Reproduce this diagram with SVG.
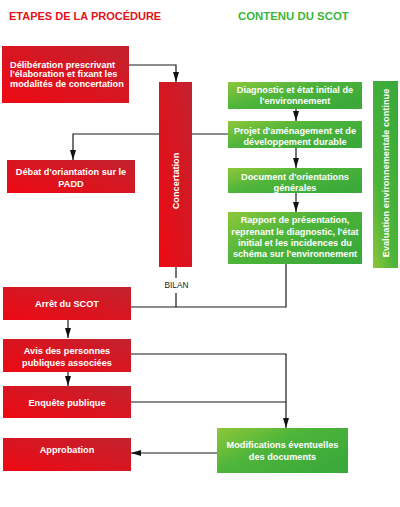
<svg xmlns="http://www.w3.org/2000/svg" width="400" height="507" viewBox="0 0 400 507">
<defs>
<linearGradient id="red" x1="0" y1="1" x2="1" y2="0">
<stop offset="0" stop-color="#ee0912"/>
<stop offset="1" stop-color="#c2222f"/>
</linearGradient>
<linearGradient id="green" x1="0" y1="0" x2="1" y2="0.7">
<stop offset="0" stop-color="#8fc73a"/>
<stop offset="0.45" stop-color="#4fb53a"/>
<stop offset="1" stop-color="#3aa93a"/>
</linearGradient>
<linearGradient id="greenV" x1="0" y1="1" x2="0.6" y2="0">
<stop offset="0" stop-color="#8cc63a"/>
<stop offset="0.4" stop-color="#4cb43a"/>
<stop offset="1" stop-color="#3aab3a"/>
</linearGradient>
<marker id="arr" viewBox="0 0 10 6" refX="10" refY="3" markerWidth="10" markerHeight="6" markerUnits="userSpaceOnUse" orient="auto">
<path d="M0,0 L10,3 L0,6 Z" fill="#111"/>
</marker>
</defs>
<style>
.r{fill:url(#red)}
.g{fill:url(#green)}
.t{font-family:"Liberation Sans",Arial,sans-serif;font-weight:bold;font-size:9.2px;fill:#fff}
.c{text-anchor:middle}
.ln{fill:none;stroke:#1a1a1a;stroke-width:1.2}
.h{font-family:"Liberation Sans",Arial,sans-serif;font-weight:bold}
</style>
<rect width="400" height="507" fill="#fff"/>
<text class="h" x="9" y="20" font-size="11" fill="#e3131b">ETAPES DE LA PROCÉDURE</text>
<text class="h" x="238" y="20" font-size="11.4" fill="#3db53a">CONTENU DU SCOT</text>

<g id="connectors">
<path class="ln" d="M129,65 H176 V82" marker-end="url(#arr)"/>
<path class="ln" d="M228,134 H73 V160" marker-end="url(#arr)"/>
<path class="ln" d="M296,109 V121" marker-end="url(#arr)"/>
<path class="ln" d="M296,148 V168" marker-end="url(#arr)"/>
<path class="ln" d="M296,193 V212" marker-end="url(#arr)"/>
<path class="ln" d="M176,267 V278 M176,293 V307"/>
<path class="ln" d="M131,307 H286 V264"/>
<path class="ln" d="M68,320 V338" marker-end="url(#arr)"/>
<path class="ln" d="M68,372 V386" marker-end="url(#arr)"/>
<path class="ln" d="M131,354 H286 V428" marker-end="url(#arr)"/>
<path class="ln" d="M131,402 H286"/>
<path class="ln" d="M217,453 H131" marker-end="url(#arr)"/>
</g>

<g id="deliberation">
<rect class="r" x="2" y="46" width="127" height="57"/>
<text class="t" x="10" y="67.5">Délibération prescrivant</text>
<text class="t" x="10" y="77.3">l'élaboration et fixant les</text>
<text class="t" x="10" y="87">modalités de concertation</text>
</g>

<g id="concertation">
<rect class="r" x="159" y="82" width="33" height="185"/>
<text class="t c" transform="translate(178.5,181) rotate(-90)">Concertation</text>
</g>

<g id="bilan">
<text x="176.5" y="287.5" font-family="'Liberation Sans',Arial,sans-serif" font-size="8.3" fill="#222" text-anchor="middle">BILAN</text>
</g>

<g id="debat">
<rect class="r" x="7" y="160" width="128" height="33"/>
<text class="t c" x="71" y="175">Débat d'oriantation sur le</text>
<text class="t c" x="71" y="187">PADD</text>
</g>

<g id="arret">
<rect class="r" x="3" y="287" width="128" height="33"/>
<text class="t c" x="67" y="306.7">Arrêt du SCOT</text>
</g>

<g id="avis">
<rect class="r" x="3" y="339" width="128" height="33"/>
<text class="t c" x="67" y="354">Avis des personnes</text>
<text class="t c" x="67" y="365.5">publiques associées</text>
</g>

<g id="enquete">
<rect class="r" x="3" y="386" width="128" height="32"/>
<text class="t c" x="67" y="406">Enquête publique</text>
</g>

<g id="approbation">
<rect class="r" x="3" y="438" width="128" height="33"/>
<text class="t c" x="67" y="453">Approbation</text>
</g>

<g id="diagnostic">
<rect class="g" x="228" y="82" width="134" height="27"/>
<text class="t c" x="295" y="93.3">Diagnostic et état initial de</text>
<text class="t c" x="295" y="104">l'environnement</text>
</g>

<g id="projet">
<rect class="g" x="228" y="121" width="134" height="27"/>
<text class="t c" x="295" y="134">Projet d'aménagement et de</text>
<text class="t c" x="295" y="144.5">développement durable</text>
</g>

<g id="document">
<rect class="g" x="228" y="168" width="134" height="25"/>
<text class="t c" x="295" y="180">Document d'orientations</text>
<text class="t c" x="295" y="190.7">générales</text>
</g>

<g id="rapport">
<rect class="g" x="228" y="212" width="134" height="52"/>
<text class="t c" x="295" y="223.3">Rapport de présentation,</text>
<text class="t c" x="295" y="234.5">reprenant le diagnostic, l'état</text>
<text class="t c" x="295" y="245.7">initial et les incidences du</text>
<text class="t c" x="295" y="256.7">schéma sur l'environnement</text>
</g>

<g id="evaluation">
<rect x="373" y="81" width="25" height="187" fill="url(#greenV)"/>
<text class="t c" font-size="9.8" transform="translate(389,173) rotate(-90)">Evaluation environnementale continue</text>
</g>

<g id="modifications">
<rect class="g" x="217" y="428" width="131" height="45"/>
<text class="t c" x="282.5" y="448.3">Modifications éventuelles</text>
<text class="t c" x="282.5" y="459.5">des documents</text>
</g>
</svg>
